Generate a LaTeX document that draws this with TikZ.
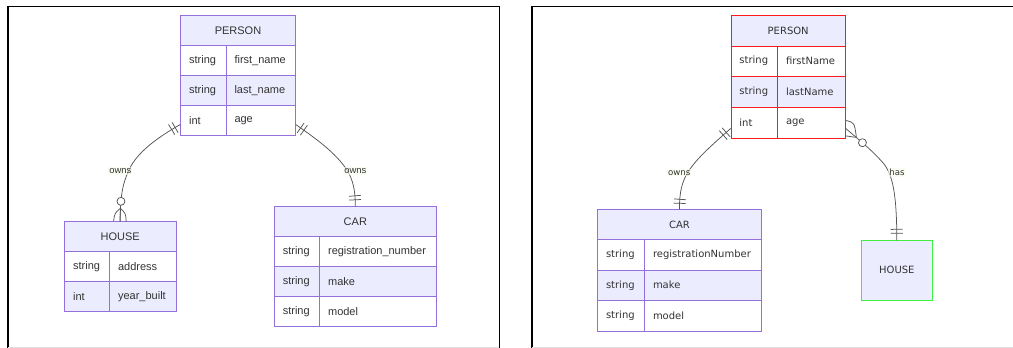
\documentclass[tikz,border=0pt]{standalone}
\usepackage{fontspec}
\setmainfont{Liberation Sans}
\newfontfamily\dvfont{DejaVu Sans}
\usetikzlibrary{calc,decorations.markings}
\hyphenpenalty=10000
\exhyphenpenalty=10000

\definecolor{erline}{HTML}{9370DB}
\definecolor{erhead}{HTML}{ECECFF}
\definecolor{ertext}{HTML}{333333}
\definecolor{erred}{HTML}{FF1A1A}
\definecolor{ergreen}{HTML}{3FEF3F}
\definecolor{relline}{HTML}{555555}
\definecolor{lblbg}{RGB}{246,252,234}

\tikzset{
  head/.style={rectangle, draw=erline, fill=erhead, anchor=north west, inner sep=0pt, minimum height=30pt, text=ertext},
  attr/.style={rectangle, draw=erline, fill=white, anchor=north west, inner xsep=8.6pt, inner ysep=0pt, minimum height=30pt, align=left, text=ertext},
  even/.style={fill=erhead},
  lfont/.style={font=\fontsize{11}{13}\selectfont},
  rfont/.style={font=\dvfont\fontsize{10}{12}\selectfont, inner xsep=8.5pt, minimum height=30.5pt},
  rel/.style={draw=relline, line width=0.75pt},
  lbl/.style={fill=lblbg, fill opacity=0.6, text opacity=1, text=ertext, inner sep=1pt},
  onebar/.style={postaction={decorate, decoration={markings,
      mark=at position #1 with {\draw[relline, line width=0.75pt] (0,-6pt) -- (0,6pt);}}}},
  zeroring/.style={postaction={decorate, decoration={markings,
      mark=at position #1 with {\draw[relline, line width=0.75pt, fill=white] (0,0) circle (4pt);}}}},
  manyend/.style={postaction={decorate, decoration={markings,
      mark=at position -13pt with {\draw[relline, line width=0.75pt] (0,0) -- (13pt,0)
          (0,0) .. controls (5pt,5.5pt) .. (13pt,6.3pt)
          (0,0) .. controls (5pt,-5.5pt) .. (13pt,-6.3pt);},
      mark=at position -20pt with {\draw[relline, line width=0.75pt, fill=white] (0,0) circle (4pt);}}}}
}

\begin{document}
\begin{tikzpicture}[x=1pt, y=-1pt]
  \useasboundingbox (0,0) rectangle (1013,348);

  % panel frames
  \draw[black, line width=1.5pt] (8,348) -- (8,6.7) -- (499.3,6.7) -- (499.3,348);
  \draw[black!12, line width=1pt] (8,347.5) -- (499.3,347.5);
  \draw[black, line width=1.5pt] (532,348) -- (532,6.7) -- (1013,6.7);
  \draw[black!12, line width=1pt] (532,347.5) -- (1013,347.5);

  % left diagram
  \node[head, lfont, minimum width=115pt] (lPerson) at (180.3,15.3) {PERSON};
  \node[attr, lfont, text width=28.2pt] (lP1t) at (180.3,45.3) {string};
  \node[attr, lfont, text width=52.4pt] (lP1n) at (225.7,45.3) {first\_name};
  \node[attr, lfont, even, text width=28.2pt] (lP2t) at (180.3,75.3) {string};
  \node[attr, lfont, even, text width=52.4pt] (lP2n) at (225.7,75.3) {last\_name};
  \node[attr, lfont, text width=28.2pt] (lP3t) at (180.3,105.3) {int};
  \node[attr, lfont, text width=52.4pt] (lP3n) at (225.7,105.3) {age};

  \node[head, lfont, minimum width=111.4pt] (lHouse) at (64.3,221.3) {HOUSE};
  \node[attr, lfont, text width=27.8pt] (lH1t) at (64.3,251.3) {string};
  \node[attr, lfont, text width=49.2pt] (lH1n) at (109.3,251.3) {address};
  \node[attr, lfont, even, text width=27.8pt] (lH2t) at (64.3,281.3) {int};
  \node[attr, lfont, even, text width=49.2pt] (lH2n) at (109.3,281.3) {year\_built};

  \node[head, lfont, minimum width=162.3pt] (lCar) at (274,206.3) {CAR};
  \node[attr, lfont, text width=28.1pt] (lC1t) at (274,236.3) {string};
  \node[attr, lfont, text width=99.8pt] (lC1n) at (319.3,236.3) {registration\_number};
  \node[attr, lfont, even, text width=28.1pt] (lC2t) at (274,266.3) {string};
  \node[attr, lfont, even, text width=99.8pt] (lC2n) at (319.3,266.3) {make};
  \node[attr, lfont, text width=28.1pt] (lC3t) at (274,296.3) {string};
  \node[attr, lfont, text width=99.8pt] (lC3n) at (319.3,296.3) {model};

  \draw[rel, onebar=6pt, onebar=10pt, manyend]
    ($(lP3t.west)+(0,4)$) .. controls (160,136) and (140,150) .. (131,166)
    .. controls (124,180) and (120.3,190) .. (lHouse.north);
  \draw[rel, onebar=6pt, onebar=10pt, onebar=-6.5pt, onebar=-10.5pt]
    ($(lP3n.east)+(0,4)$) .. controls (315,138) and (335,152) .. (347,170)
    .. controls (353,180) and (355.3,190) .. (lCar.north);
  \node[lbl, font=\fontsize{9.4}{11}\selectfont] (lOwnsH) at (120.3,171) {owns};
  \node[lbl, font=\fontsize{9.4}{11}\selectfont] (lOwnsC) at (355.3,171) {owns};

  % right diagram
  \node[head, rfont, draw=erred, minimum width=114.6pt, minimum height=30.4pt] (rPerson) at (730.7,15.3) {PERSON};
  \node[attr, rfont, draw=erred, text width=29.6pt] (rP1t) at (730.7,45.7) {string};
  \node[attr, rfont, draw=erred, text width=51pt] (rP1n) at (777.3,45.7) {firstName};
  \node[attr, rfont, draw=erred, even, text width=29.6pt] (rP2t) at (730.7,76.3) {string};
  \node[attr, rfont, draw=erred, even, text width=51pt] (rP2n) at (777.3,76.3) {lastName};
  \node[attr, rfont, draw=erred, text width=29.6pt] (rP3t) at (730.7,107) {int};
  \node[attr, rfont, draw=erred, text width=51pt] (rP3n) at (777.3,107) {age};

  \node[head, rfont, minimum width=164pt, minimum height=30pt] (rCar) at (597.3,209.3) {CAR};
  \node[attr, rfont, text width=30pt] (rC1t) at (597.3,239.3) {string};
  \node[attr, rfont, text width=100pt] (rC1n) at (644.3,239.3) {registrationNumber};
  \node[attr, rfont, even, text width=30pt] (rC2t) at (597.3,269.8) {string};
  \node[attr, rfont, even, text width=100pt] (rC2n) at (644.3,269.8) {make};
  \node[attr, rfont, text width=30pt] (rC3t) at (597.3,300.3) {string};
  \node[attr, rfont, text width=100pt] (rC3n) at (644.3,300.3) {model};

  \node[head, rfont, draw=ergreen, minimum width=71.3pt, minimum height=59.7pt] (rHouse) at (861,240.3) {HOUSE};

  \draw[rel, onebar=6pt, onebar=10pt, onebar=-6pt, onebar=-10pt]
    ($(rP3t.west)+(0,6)$) .. controls (712,145) and (697,158) .. (688,172)
    .. controls (682,182) and (679.3,192) .. (rCar.north);
  \draw[rel, zeroring=22pt, onebar=-7pt, onebar=-11pt]
    ($(rP3n.east)+(0,6)$) .. controls (858,139) and (872,150) .. (884,164)
    .. controls (893,176) and (896.7,195) .. (rHouse.north);
  \coordinate (hasApex) at ($(rP3n.south east)+(10.7,-0.5)$);
  \draw[rel] ($(rP3n.east)+(0,-2)$) .. controls ($(rP3n.east)+(8.7,0)$) .. (hasApex);
  \draw[rel] ($(rP3n.south east)+(0,-2)$) -- (hasApex);
  \node[lbl, font=\dvfont\fontsize{8.6}{10}\selectfont] (rOwns) at (679.3,172.7) {owns};
  \node[lbl, font=\dvfont\fontsize{8.6}{10}\selectfont] (rHas) at (897,172.7) {has};
\end{tikzpicture}
\end{document}
